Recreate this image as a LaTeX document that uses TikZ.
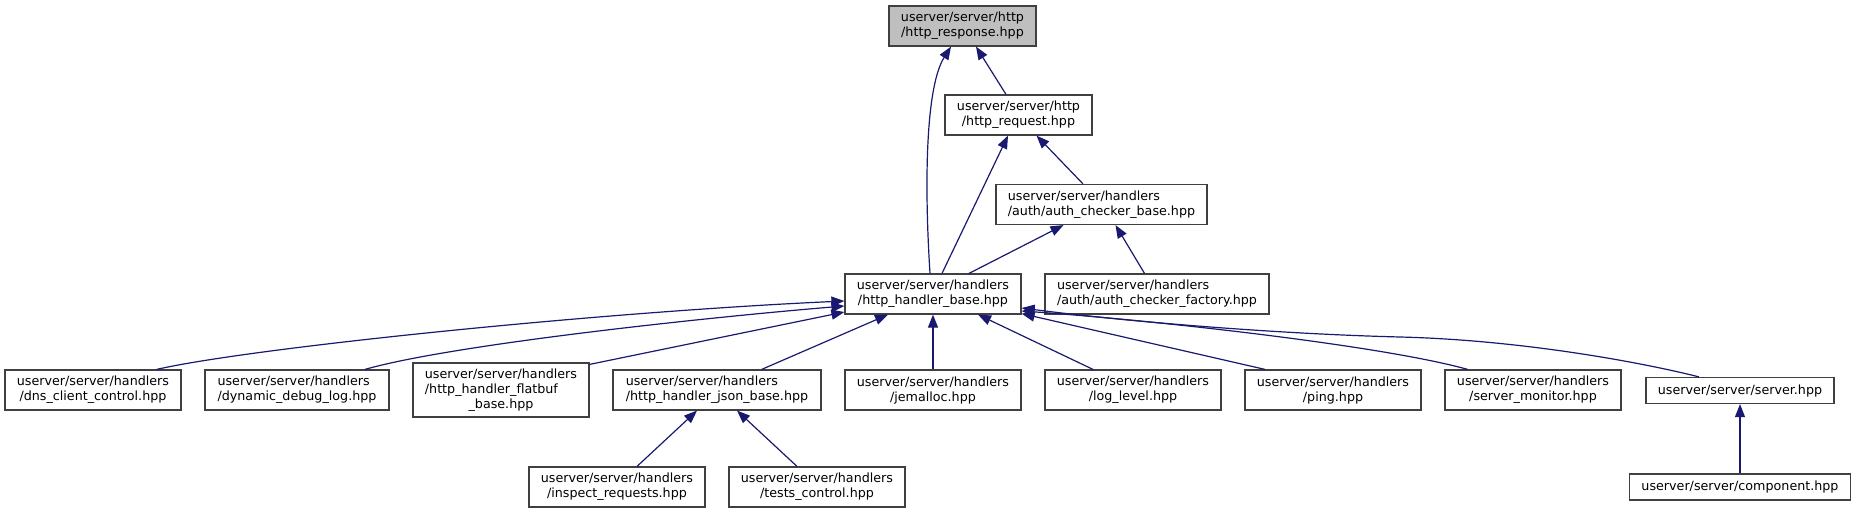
\documentclass[tikz,border=0pt]{standalone}
\usepackage{fontspec}
\setmainfont{DejaVu Sans}
\usetikzlibrary{arrows.meta,calc}
\definecolor{boxc}{HTML}{404040}
\definecolor{edgec}{HTML}{191970}
\definecolor{hil}{HTML}{BFBFBF}
\newcommand{\dfs}{\fontsize{12.7}{15}\selectfont}
\begin{document}
\begin{tikzpicture}[x=1pt,y=-1pt,
  box/.style={draw=boxc, line width=1.2pt, fill=white, inner sep=0pt, font=\dfs, align=center, minimum height=40pt},
  boxl/.style={box, align=left},
  dep/.style={draw=edgec, line width=1.2pt, {Triangle[length=13pt,width=10pt]}-},
]
\fill[white] (0,0) rectangle (1856,513);
\useasboundingbox (0,0) rectangle (1856,513);

% nodes
\node[box, fill=hil, minimum width=147pt] (resp) at (962.5,26) {userver/server/http\\/http\_response.hpp};
\node[box, minimum width=147pt] (req) at (1018.5,115) {userver/server/http\\/http\_request.hpp};
\node[boxl, minimum width=211pt] (acb) at (1101.5,204.5) {userver/server/handlers\\/auth/auth\_checker\_base.hpp};
\node[box, minimum width=176pt] (hhb) at (933,294) {userver/server/handlers\\/http\_handler\_base.hpp};
\node[boxl, minimum width=224pt] (acf) at (1157,294) {userver/server/handlers\\/auth/auth\_checker\_factory.hpp};

\node[box, minimum width=176pt] (dns) at (93,390) {userver/server/handlers\\/dns\_client\_control.hpp};
\node[boxl, minimum width=184pt] (ddl) at (297,390) {userver/server/handlers\\/dynamic\_debug\_log.hpp};
\node[box, minimum width=176pt, minimum height=54pt] (flat) at (501,390) {userver/server/handlers\\\rlap{/http\_handler\_flatbuf}\phantom{userver/server/handlers}\\\_base.hpp};
\node[boxl, minimum width=208pt] (json) at (717,390) {userver/server/handlers\\/http\_handler\_json\_base.hpp};
\node[box, minimum width=176pt] (jem) at (933,390) {userver/server/handlers\\/jemalloc.hpp};
\node[box, minimum width=176pt] (logl) at (1133,390) {userver/server/handlers\\/log\_level.hpp};
\node[box, minimum width=176pt] (ping) at (1333,390) {userver/server/handlers\\/ping.hpp};
\node[box, minimum width=176pt] (smon) at (1533,390) {userver/server/handlers\\/server\_monitor.hpp};
\node[box, minimum width=188pt, minimum height=26pt] (srv) at (1740,390.5) {userver/server/server.hpp};
\node[box, minimum width=221pt, minimum height=26pt] (comp) at (1740,487) {userver/server/component.hpp};
\node[box, minimum width=176pt] (insp) at (617,487) {userver/server/handlers\\/inspect\_requests.hpp};
\node[box, minimum width=176pt] (tests) at (817,487) {userver/server/handlers\\/tests\_control.hpp};

% edges
\draw[dep] ($(resp.south)+(-11.5,0)$) .. controls (926,86) and (924,180) .. ($(hhb.north)+(-3,0)$);
\draw[dep] ($(resp.south)+(13.5,0)$) -- ($(req.north)+(-12.5,0)$);
\draw[dep] ($(req.south)+(-10.5,0)$) -- ($(hhb.north)+(9,0)$);
\draw[dep] ($(req.south)+(18,0)$) -- ($(acb.north)+(-18.5,0)$);
\draw[dep] ($(acb.south)+(-38,0)$) -- ($(hhb.north)+(36,0)$);
\draw[dep] ($(acb.south)+(14,0)$) -- ($(acf.north)+(-12.5,0)$);

\draw[dep] ($(hhb.west)+(0,7)$) .. controls (600,312) and (250,348) .. ($(dns.north)+(63.7,0)$);
\draw[dep] ($(hhb.west)+(0,12)$) .. controls (700,318) and (450,345) .. ($(ddl.north)+(68,0)$);
\draw[dep] ($(hhb.west)+(0,18)$) -- ($(flat.north east)+(0,2)$);
\draw[dep] ($(hhb.south)+(-45,0)$) -- ($(json.north)+(44.7,0)$);
\draw[dep] (hhb.south) -- (jem.north);
\draw[dep] ($(hhb.south)+(45,0)$) -- ($(logl.north)+(-40,0)$);
\draw[dep] ($(hhb.south east)+(0,-1)$) -- ($(ping.north)+(-68,0)$);
\draw[dep] ($(hhb.east)+(0,17)$) .. controls (1150,320) and (1380,345) .. ($(smon.north)+(-65.3,0)$);
\draw[dep] ($(hhb.east)+(0,14)$) .. controls (1130,322) and (1280,334) .. (1400,337) .. controls (1520,340) and (1640,362) .. ($(srv.north)+(-41,0)$);
\draw[dep] (srv.south) -- (comp.north);
\draw[dep] ($(json.south)+(-20,0)$) -- ($(insp.north)+(20,0)$);
\draw[dep] ($(json.south)+(20,0)$) -- ($(tests.north)+(-20,0)$);
\end{tikzpicture}
\end{document}
